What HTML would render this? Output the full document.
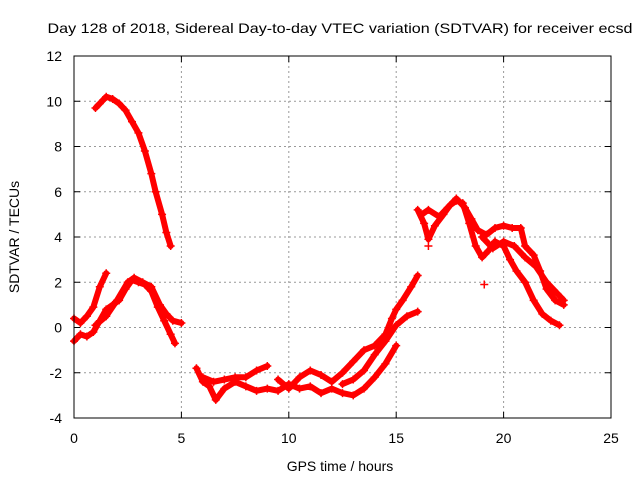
<!DOCTYPE html>
<html><head><meta charset="utf-8"><style>
body{margin:0;background:#fff}
svg{display:block;font-family:"Liberation Sans",sans-serif}
</style></head><body>
<svg id="chart" width="640" height="480" viewBox="0 0 640 480">
<rect width="640" height="480" fill="#fff"/>
<text x="340" y="33" font-size="14" text-anchor="middle" textLength="585" lengthAdjust="spacingAndGlyphs">Day 128 of 2018, Sidereal Day-to-day VTEC variation (SDTVAR) for receiver ecsd</text>
<text x="340" y="471" font-size="14" text-anchor="middle">GPS time / hours</text>
<text transform="translate(19,237) rotate(-90)" font-size="14" text-anchor="middle">SDTVAR / TECUs</text>
<g id="grid"></g><g id="ticks"></g><g id="marks"></g>
<rect x="74" y="56" width="537" height="362" fill="none" stroke="#000" stroke-width="1"/>
</svg>
<script>
const xTicks=[0,5,10,15,20,25];
const yTicks=[-4,-2,0,2,4,6,8,10,12];
const track1=[[1.0,9.7],[1.2,9.9],[1.5,10.2],[1.8,10.1],[2.1,9.9],[2.4,9.6],[2.7,9.1],[3.0,8.6],[3.3,7.8],[3.6,6.8],[3.8,6.0],[4.1,5.0],[4.3,4.2],[4.5,3.6]];
const track2=[[0,-0.6],[0.3,-0.3],[0.6,-0.4],[0.9,-0.2],[1.2,0.3],[1.5,0.8],[1.8,1.0],[2.1,1.2],[2.4,1.7],[2.7,2.1],[3.0,2.0],[3.3,1.9],[3.6,1.6],[3.9,0.9],[4.2,0.3],[4.5,-0.3],[4.7,-0.7]];
const track3=[[0,0.4],[0.3,0.2],[0.6,0.5],[0.9,0.9],[1.2,1.8],[1.5,2.4]];
const track4=[[1.0,0.1],[1.5,0.5],[2.0,1.2],[2.5,2.0],[2.8,2.2],[3.2,2.0],[3.6,1.8],[4.0,1.0],[4.3,0.6],[4.6,0.3],[5.0,0.2]];
const track5=[[5.7,-1.8],[6.0,-2.4],[6.3,-2.6],[6.6,-3.2],[7.0,-2.7],[7.5,-2.4],[8.0,-2.6],[8.5,-2.8],[9.0,-2.7],[9.5,-2.8],[10.0,-2.5],[10.5,-2.7],[11.0,-2.6],[11.5,-2.9],[12.0,-2.7],[12.5,-2.9],[13.0,-3.0],[13.5,-2.7],[14.0,-2.2],[14.5,-1.6],[15.0,-0.8]];
const track6=[[6.0,-2.2],[6.5,-2.4],[7.0,-2.3],[7.5,-2.2],[8.0,-2.2],[8.5,-1.9],[9.0,-1.7]];
const track7=[[9.5,-2.3],[10.0,-2.7],[10.5,-2.2],[11.0,-1.9],[11.5,-2.1],[12.0,-2.4],[12.5,-2.0],[13.0,-1.5],[13.5,-1.0],[14.0,-0.8],[14.5,-0.3],[14.8,0.4],[15.0,0.8],[15.3,1.2],[15.7,1.8],[16.0,2.3]];
const track8=[[12.5,-2.5],[13.0,-2.3],[13.5,-1.9],[14.0,-1.2],[14.5,-0.6],[15.0,0.1],[15.5,0.5],[16.0,0.7]];
const track9=[[16.0,5.2],[16.3,4.6],[16.5,3.9],[16.8,4.5],[17.2,5.0],[17.5,5.4],[17.8,5.6],[18.1,5.5],[18.4,4.6],[18.7,3.6],[19.0,3.1],[19.3,3.4],[19.6,3.8],[20.0,3.6],[20.3,3.0],[20.6,2.5],[21.0,2.0],[21.4,1.2],[21.8,0.6],[22.2,0.3],[22.6,0.1]];
const track10=[[16.2,5.0],[16.5,5.2],[17.0,4.9],[17.4,5.3],[17.8,5.7],[18.2,5.3],[18.5,4.8],[18.8,4.3],[19.2,4.1],[19.6,4.4],[20.0,4.5],[20.4,4.4],[20.8,4.4],[21.0,3.6],[21.4,3.2],[21.7,2.5],[22.0,1.7],[22.4,1.2],[22.8,1.0]];
const track11=[[19.0,4.0],[19.5,3.5],[20.0,3.8],[20.5,3.6],[21.0,3.1],[21.5,2.7],[22.0,2.0],[22.5,1.5],[22.8,1.2]];
const outliers=[[19.1,1.9],[16.5,3.6]];
const tracks=[track1,track2,track3,track4,track5,track6,track7,track8,track9,track10,track11];

const X=v=>74+(v-0)/25*537;
const Y=v=>418-(v+4)/16*362;
const NS="http://www.w3.org/2000/svg";
const grid=document.getElementById('grid'),ticks=document.getElementById('ticks'),marks=document.getElementById('marks');
function mk(tag,attrs,parent){const e=document.createElementNS(NS,tag);for(const k in attrs)e.setAttribute(k,attrs[k]);parent.appendChild(e);return e;}
xTicks.forEach(t=>{
  if(t>0&&t<25){const g=mk('line',{x1:X(t),x2:X(t),y1:56,y2:418,stroke:'#999','stroke-dasharray':'2,3'},grid);
  
  }
  const tx=mk('text',{x:X(t),y:443,'font-size':14,'text-anchor':'middle'},ticks);tx.textContent=t;
  
  
  mk('line',{x1:X(t),x2:X(t),y1:418,y2:412,stroke:'#000'},ticks);
  mk('line',{x1:X(t),x2:X(t),y1:56,y2:62,stroke:'#000'},ticks);
});
yTicks.forEach(t=>{
  if(t>-4&&t<12){const g=mk('line',{x1:74,x2:611,y1:Y(t),y2:Y(t),stroke:'#999','stroke-dasharray':'2,3'},grid);
  
  }
  const tx=mk('text',{x:62,y:Y(t)+5,'font-size':14,'text-anchor':'end'},ticks);tx.textContent=t;
  
  
  mk('line',{x1:74,x2:80,y1:Y(t),y2:Y(t),stroke:'#000'},ticks);
  mk('line',{x1:605,x2:611,y1:Y(t),y2:Y(t),stroke:'#000'},ticks);
});
function plus(v){
  const x=X(v[0]),y=Y(v[1]);
  const p=mk('path',{d:`M${x-4},${y}H${x+4}M${x},${y-4}V${y+4}`,stroke:'#f00','stroke-width':1.5},marks);
  
  
}
tracks.forEach(tr=>{
  const pl=mk('polyline',{points:tr.map(v=>X(v[0])+','+Y(v[1])).join(' '),fill:'none',stroke:'#f00','stroke-width':6,'stroke-linejoin':'round','stroke-linecap':'round'},marks);
  
  
  tr.forEach(plus);
});
outliers.forEach(plus);
</script>
</body></html>
